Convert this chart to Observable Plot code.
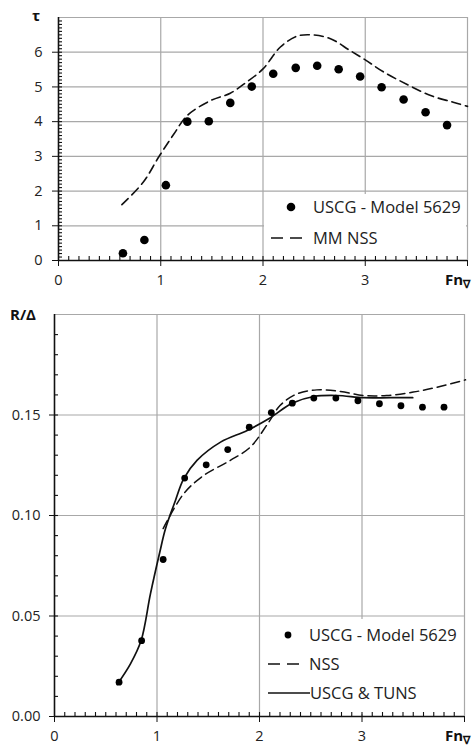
<!DOCTYPE html>
<html><head><meta charset="utf-8">
<script src="https://cdn.jsdelivr.net/npm/d3@7"></script>
<script src="https://cdn.jsdelivr.net/npm/@observablehq/plot@0.6"></script>
<style>
body{margin:0;background:#fff;font-family:"Open Sans",sans-serif;}
#wrap{position:relative;width:474px;height:747px;overflow:hidden;}
#wrap > svg, #wrap > div.plot{position:absolute;left:0;}
.ttl{position:absolute;font-weight:bold;font-size:15px;color:#111;line-height:1;white-space:nowrap;}
.ttl sub{font-size:11px;vertical-align:-3px;}
.leg{position:absolute;background:#fff;}
</style></head><body><div id="wrap"></div>
<script>
// ---- Top chart: trim angle tau vs Fn_vol ----
const fnTop   = [0.63,0.84,1.05,1.26,1.47,1.68,1.89,2.10,2.32,2.53,2.74,2.95,3.16,3.375,3.59,3.80];
const tauUSCG = [0.21,0.59,2.17,4.00,4.01,4.54,5.01,5.38,5.55,5.61,5.51,5.30,4.99,4.64,4.27,3.90];
const fnNSSTop = [0.62,0.83,0.98,1.13,1.26,1.49,1.68,1.84,2.00,2.17,2.33,2.48,2.66,2.85,3.00,3.18,3.41,3.64,3.86,4.00];
const tauNSS   = [1.61,2.26,2.98,3.65,4.18,4.61,4.82,5.14,5.52,6.15,6.46,6.50,6.39,6.05,5.78,5.43,5.07,4.75,4.56,4.44];
// ---- Bottom chart: R/Delta vs Fn_vol ----
const fnBot  = [0.63,0.85,1.06,1.27,1.48,1.69,1.90,2.115,2.32,2.53,2.745,2.96,3.17,3.38,3.59,3.80];
const rdUSCG = [0.0171,0.0377,0.0781,0.1186,0.1252,0.1328,0.1439,0.1512,0.1559,0.1584,0.1584,0.1571,0.1556,0.1546,0.1539,0.1539];
const fnNSSBot = [1.06,1.26,1.455,1.715,1.91,2.09,2.20,2.365,2.56,2.79,3.015,3.24,3.50,3.73,4.01];
const rdNSS    = [0.0935,0.1108,0.1199,0.1274,0.1340,0.1464,0.1547,0.1605,0.1625,0.1617,0.1597,0.1597,0.1614,0.1638,0.1675];
const fnTUNS = [0.611,0.741,0.845,0.936,1.027,1.082,1.18,1.26,1.39,1.62,1.88,2.09,2.32,2.53,2.755,3.015,3.275,3.495];
const rdTUNS = [0.0159,0.0262,0.0378,0.0610,0.0817,0.0933,0.1075,0.1182,0.1274,0.1365,0.1423,0.1481,0.1559,0.1592,0.1597,0.1586,0.1586,0.1586];
// ---- tick values ----
const xMajor = [0,1,2,3,4];
const xLabels = ["0","1","2","3",""];
const xMinor = d3.range(1,40).map(i => i/10);
const yTopMajor = [0,1,2,3,4,5,6];
const yTopGrid = [1,2,3,4,5,6,7];
const yTopMinor = d3.range(1,70).map(i => i/10);
const yBotMajor = [0,0.05,0.10,0.15];
const yBotGrid = [0.05,0.10,0.15,0.20];
const yBotMinor = d3.range(1,20).map(i => i/100);

const legTop = ["USCG - Model 5629","MM NSS"];
const legBot = ["USCG - Model 5629","NSS","USCG & TUNS"];

const GRID = "#a8a8a8";
const topData = fnTop.map((x,i)=>({x,y:tauUSCG[i]}));
const topNSS = fnNSSTop.map((x,i)=>({x,y:tauNSS[i]}));
const botData = fnBot.map((x,i)=>({x,y:rdUSCG[i]}));
const botNSS = fnNSSBot.map((x,i)=>({x,y:rdNSS[i]}));
const botTUNS = fnTUNS.map((x,i)=>({x,y:rdTUNS[i]}));
const xFmt = d => xLabels[xMajor.indexOf(d)];

const style = {fontFamily:"'Open Sans', sans-serif", fontSize:"14.5px", color:"#222", background:"transparent", overflow:"visible"};
const topDims = {width:474, height:295, marginLeft:58, marginRight:7, marginTop:17, marginBottom:35};
const botDims = {width:474, height:452, marginLeft:54, marginRight:10, marginTop:19, marginBottom:31};

// data layers (no axes)
const topPlot = Plot.plot({
  ...topDims, style,
  x:{domain:[0,4], axis:null}, y:{domain:[0,7], axis:null},
  marks:[
    Plot.ruleX([1,2,3,4], {stroke:GRID, strokeWidth:1.2}),
    Plot.ruleY(yTopGrid, {stroke:GRID, strokeWidth:1.2}),
    Plot.line(topNSS, {x:"x", y:"y", curve:"catmull-rom", stroke:"#111", strokeWidth:1.6, strokeDasharray:"9,5"}),
    Plot.dot(topData, {x:"x", y:"y", r:4.3, fill:"#000", stroke:"none"})
  ]
});
topPlot.style.top = "0px";

const botPlot = Plot.plot({
  ...botDims, style,
  x:{domain:[0,4], axis:null}, y:{domain:[0,0.20], axis:null},
  marks:[
    Plot.ruleX([1,2,3,4], {stroke:GRID, strokeWidth:1.2}),
    Plot.ruleY(yBotGrid, {stroke:GRID, strokeWidth:1.2}),
    Plot.line(botNSS, {x:"x", y:"y", curve:"catmull-rom", stroke:"#111", strokeWidth:1.5, strokeDasharray:"9,5"}),
    Plot.line(botTUNS, {x:"x", y:"y", curve:"catmull-rom", stroke:"#111", strokeWidth:1.7}),
    Plot.dot(botData, {x:"x", y:"y", r:3.4, fill:"#000", stroke:"none"})
  ]
});
botPlot.style.top = "295px";

// axis layers (drawn above the legend boxes)
const topAxes = Plot.plot({
  ...topDims, style,
  x:{domain:[0,4]}, y:{domain:[0,7]},
  marks:[
    Plot.axisX(xMinor, {tickSize:4, dy:-4, text:null, label:null, stroke:"#111", strokeWidth:1.1}),
    Plot.axisX(xMajor, {tickSize:6, tickPadding:8, label:null, tickFormat:xFmt, stroke:"#111"}),
    Plot.axisY(yTopMinor, {tickSize:4, dx:4, text:null, label:null, stroke:"#111", strokeWidth:1.1}),
    Plot.axisY(yTopMajor, {tickSize:6, tickPadding:10, label:null, tickFormat:d=>String(d), stroke:"#111"}),
    Plot.ruleX([0], {stroke:"#111", strokeWidth:1.6}),
    Plot.ruleY([0], {stroke:"#111", strokeWidth:1.6})
  ]
});
topAxes.style.top = "0px";

const botAxes = Plot.plot({
  ...botDims, style,
  x:{domain:[0,4]}, y:{domain:[0,0.20]},
  marks:[
    Plot.axisX(xMinor, {tickSize:4, dy:-4, text:null, label:null, stroke:"#111", strokeWidth:1.1}),
    Plot.axisX(xMajor, {tickSize:6, tickPadding:8, label:null, tickFormat:xFmt, stroke:"#111"}),
    Plot.axisY(yBotMinor, {tickSize:4, dx:4, text:null, label:null, stroke:"#111", strokeWidth:1.1}),
    Plot.axisY(yBotMajor, {tickSize:5, tickPadding:9, label:null, tickFormat:d3.format(".2f"), stroke:"#111"}),
    Plot.ruleX([0], {stroke:"#111", strokeWidth:1.6}),
    Plot.ruleY([0], {stroke:"#111", strokeWidth:1.6})
  ]
});
botAxes.style.top = "295px";

const wrap = document.getElementById("wrap");
const NS = "http://www.w3.org/2000/svg";
function legend(left, top, w, h, items){
  const s = document.createElementNS(NS, "svg");
  s.setAttribute("width", w); s.setAttribute("height", h);
  s.setAttribute("class", "leg");
  s.style.left = left+"px"; s.style.top = top+"px";
  s.style.position = "absolute";
  let html = `<rect width="${w}" height="${h}" fill="#fff"/>`;
  for (const it of items) {
    if (it.type === "dot") html += `<circle cx="${it.sx}" cy="${it.y}" r="${it.r}" fill="#000"/>`;
    if (it.type === "dash") html += `<line x1="${it.sx}" x2="${it.ex}" y1="${it.y}" y2="${it.y}" stroke="#111" stroke-width="1.6" stroke-dasharray="12,7"/>`;
    if (it.type === "solid") html += `<line x1="${it.sx}" x2="${it.ex}" y1="${it.y}" y2="${it.y}" stroke="#111" stroke-width="1.7"/>`;
    html += `<text x="${it.tx}" y="${it.y}" dy="0.36em" font-family="'Open Sans', sans-serif" font-size="16.5" fill="#222">${it.label.replace("&","&amp;")}</text>`;
  }
  s.innerHTML = html;
  return s;
}
wrap.appendChild(topPlot);
wrap.appendChild(botPlot);
wrap.appendChild(legend(264, 194, 202, 64, [
  {type:"dot", sx:27, r:4.3, y:13, tx:49, label:legTop[0]},
  {type:"dash", sx:7, ex:38, y:44, tx:49, label:legTop[1]}
]));
wrap.appendChild(legend(262, 619, 201, 95, [
  {type:"dot", sx:26, r:3.4, y:16, tx:47, label:legBot[0]},
  {type:"dash", sx:6, ex:39, y:45, tx:47, label:legBot[1]},
  {type:"solid", sx:6, ex:48, y:74, tx:48, label:legBot[2]}
]));
wrap.appendChild(topAxes);
wrap.appendChild(botAxes);

function addTitle(html, left, top){
  const d = document.createElement("div");
  d.className = "ttl"; d.innerHTML = html;
  d.style.left = left+"px"; d.style.top = top+"px";
  wrap.appendChild(d);
}
addTitle("τ", 32, 8);
addTitle("R/Δ", 10, 307);
addTitle("Fn<sub>∇</sub>", 445, 272);
addTitle("Fn<sub>∇</sub>", 445, 728);
</script></body></html>
